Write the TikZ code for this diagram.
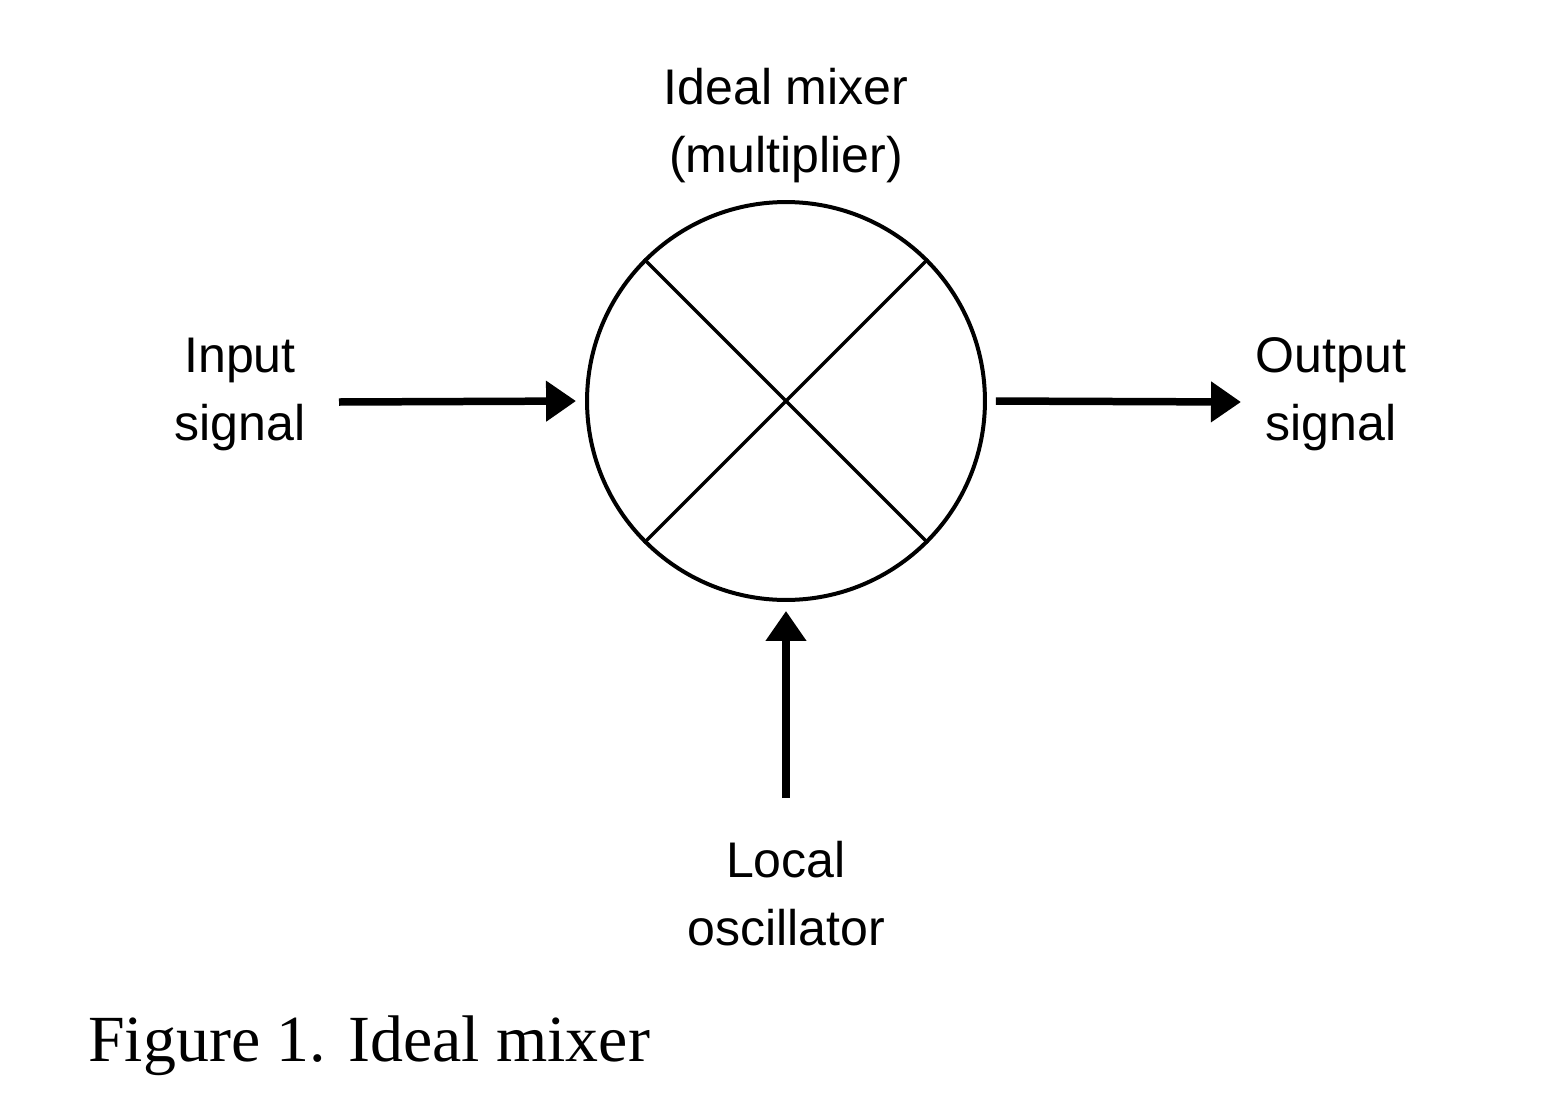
\documentclass[tikz,border=0pt]{standalone}
\usepackage{fontspec}
\setmainfont{Liberation Sans}
\newfontfamily\captionfont{Liberation Serif}
\usetikzlibrary{arrows.meta}

\begin{document}
\begin{tikzpicture}[x=0.02cm,y=-0.02cm,
  % base anchor of a two-line label sits on its last line
  label text/.style={align=center,anchor=base,inner sep=0pt,
    font=\fontsize{28.5pt}{38.7pt}\selectfont},
  signal arrow/.style={line width=0.15cm,
    -{Triangle[length=0.6cm,width=0.78cm]}},
  mixer/.style={circle,draw,line width=0.08cm,minimum size=7.96cm,inner sep=0pt}]

  % page frame
  \useasboundingbox[fill=white] (0,0) rectangle (1546,1116);

  % the multiplier symbol
  \node[mixer] (mix) at (786,401) {};
  \draw[line width=0.07cm] (mix.45) -- (mix.225);
  \draw[line width=0.07cm] (mix.135) -- (mix.-45);

  % labels
  \node[label text] (title) at (786,172) {Ideal mixer\\(multiplier)};
  \node[label text] (inlab) at (240,440) {Input\\signal};
  \node[label text] (outlab) at (1331,440) {Output\\signal};
  \node[label text] (lolab) at (786,945) {Local\\oscillator};

  % arrow ends
  \coordinate (inA) at (339,402);
  \coordinate (outB) at (1241,402);
  \coordinate (loA) at (786,798);

  % signal paths
  \draw[signal arrow,shorten >=0.18cm] (inA) -- (mix.west);
  \draw[signal arrow,shorten <=0.18cm] (mix.east) -- (outB);
  \draw[signal arrow,shorten >=0.18cm] (loA) -- (mix.south);

  % caption
  \node[anchor=base west,inner sep=0pt,
    font=\captionfont\fontsize{37.5pt}{44pt}\selectfont] (cap) at (88,1061)
    {Figure 1. Ideal mixer};
\end{tikzpicture}
\end{document}
